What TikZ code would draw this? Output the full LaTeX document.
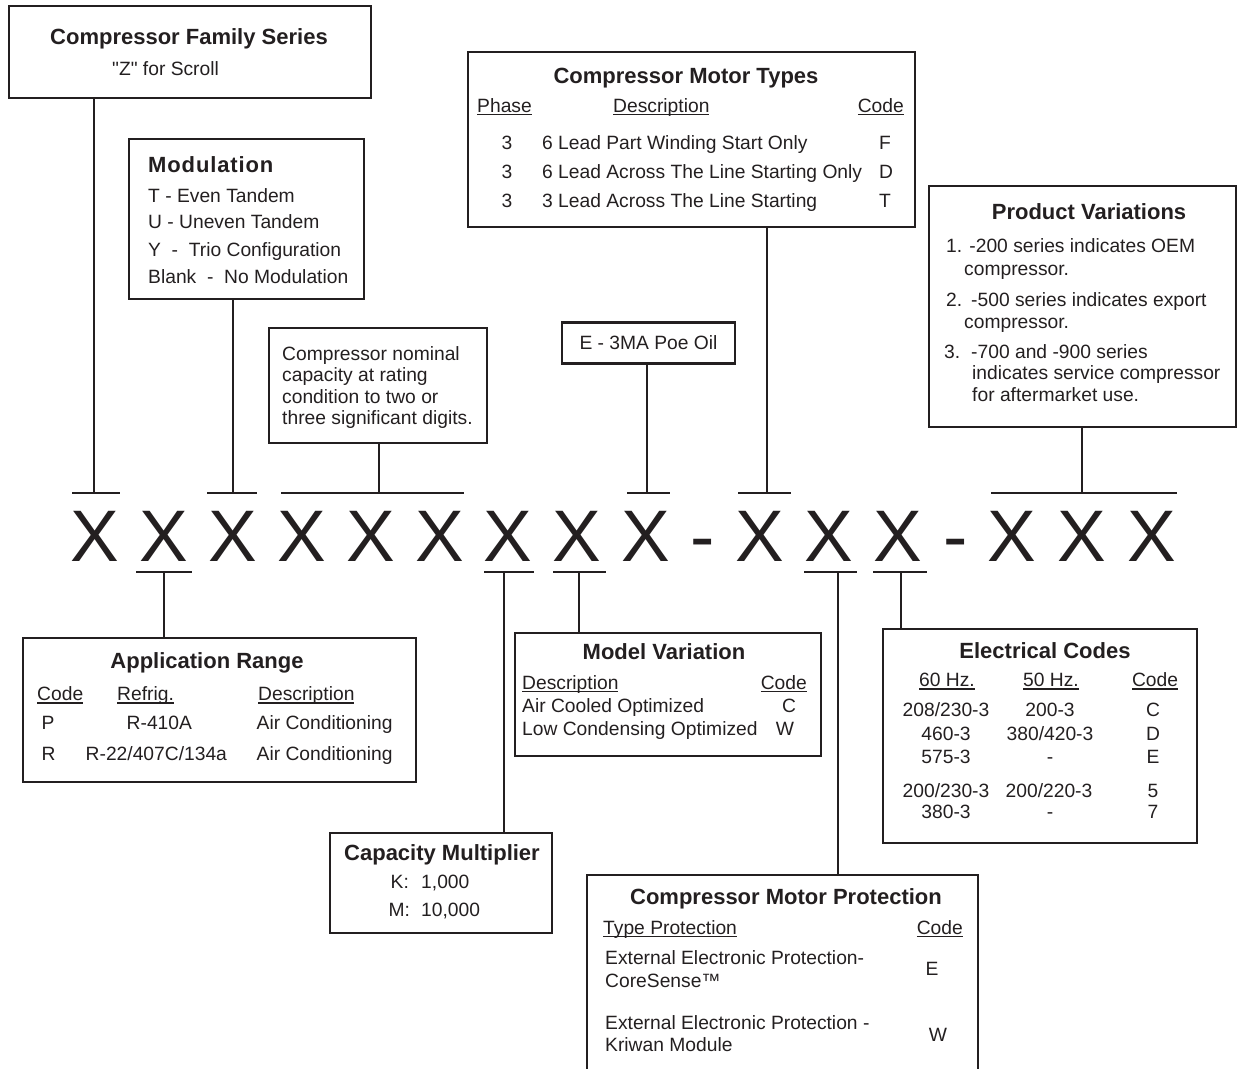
\documentclass[tikz,border=0pt]{standalone}
\usepackage{fontspec}
\setmainfont{Liberation Sans}[Ligatures=TeXOff]
\definecolor{ink}{HTML}{231F20}
\newcommand{\undl}[1]{\setbox0\hbox{#1}\rlap{\rule[-3.2pt]{\wd0}{1.3pt}}\box0}
\tikzset{
  box/.style={draw=ink, line width=2.2pt, inner sep=0pt, rectangle},
  conn/.style={draw=ink, line width=2pt},
  tx/.style={inner sep=0pt, text=ink, font=\fontsize{19.25}{23}\selectfont},
  hd/.style={inner sep=0pt, text=ink, font=\fontsize{22}{26}\selectfont\bfseries, anchor=base},
  bigx/.style={inner sep=0pt, text=ink, font=\fontsize{73}{80}\selectfont, anchor=base},
}
\begin{document}
\begin{tikzpicture}[x=1pt,y=-1pt]
\useasboundingbox (0,0) rectangle (1238,1068);
\clip (0,0) rectangle (1238,1068);

% ---------- boxes ----------
\node[box, minimum width=362pt, minimum height=92pt] (fam) at (190,52) {};
\node[box, minimum width=235pt, minimum height=160pt] (mod) at (246.5,219) {};
\node[box, minimum width=218pt, minimum height=115pt] (nom) at (378,385.5) {};
\node[box, minimum width=173pt, minimum height=41pt] (oil) at (648.5,343) {};
\node[box, minimum width=447pt, minimum height=175pt] (mtyp) at (691.5,139.5) {};
\node[box, minimum width=307pt, minimum height=241pt] (prod) at (1082.5,306.5) {};
\node[box, minimum width=393pt, minimum height=144pt] (app) at (219.5,710) {};
\node[box, minimum width=222pt, minimum height=100pt] (capm) at (441,883) {};
\node[box, minimum width=306pt, minimum height=123pt] (modv) at (668,694.5) {};
\node[box, minimum width=391pt, minimum height=220pt] (prot) at (782.5,985) {};
\node[box, minimum width=314pt, minimum height=214pt] (elec) at (1040,736) {};

% ---------- model number ----------
\node[bigx] (x1) at (94.6,561) {X};
\node[bigx] (x2) at (163.5,561) {X};
\node[bigx] (x3) at (232.5,561) {X};
\node[bigx] (x4) at (301.5,561) {X};
\node[bigx] (x5) at (370.5,561) {X};
\node[bigx] (x6) at (439.5,561) {X};
\node[bigx] (x7) at (508,561) {X};
\node[bigx] (x8) at (577,561) {X};
\node[bigx] (x9) at (646,561) {X};
\node[bigx] (d1) at (703,561) {-};
\node[bigx] (x10) at (760,561) {X};
\node[bigx] (x11) at (829,561) {X};
\node[bigx] (x12) at (898,561) {X};
\node[bigx] (d2) at (956,561) {-};
\node[bigx] (x13) at (1012,561) {X};
\node[bigx] (x14) at (1082,561) {X};
\node[bigx] (x15) at (1152,561) {X};

% ---------- tick points ----------
\coordinate (tA) at (94,493);
\coordinate (tB) at (233,493);
\coordinate (tC) at (379,493);
\coordinate (tD) at (647,493);
\coordinate (tE) at (767,493);
\coordinate (tF) at (1082,493);
\coordinate (bA) at (163.5,572);
\coordinate (bB) at (504,572);
\coordinate (bC) at (579,572);
\coordinate (bD) at (838,572);
\coordinate (bE) at (901,572);

% bars
\draw[conn] ([xshift=-22pt]tA) -- ([xshift=26pt]tA);
\draw[conn] ([xshift=-26pt]tB) -- ([xshift=24pt]tB);
\draw[conn] ([xshift=-98pt]tC) -- ([xshift=85pt]tC);
\draw[conn] ([xshift=-20pt]tD) -- ([xshift=23pt]tD);
\draw[conn] ([xshift=-29pt]tE) -- ([xshift=24pt]tE);
\draw[conn] ([xshift=-91pt]tF) -- ([xshift=95pt]tF);
\draw[conn] ([xshift=-27.5pt]bA) -- ([xshift=28.5pt]bA);
\draw[conn] ([xshift=-20pt]bB) -- ([xshift=30pt]bB);
\draw[conn] ([xshift=-26pt]bC) -- ([xshift=27pt]bC);
\draw[conn] ([xshift=-34pt]bD) -- ([xshift=19pt]bD);
\draw[conn] ([xshift=-28pt]bE) -- ([xshift=26pt]bE);

% connectors
\draw[conn] (fam.south -| tA) -- (tA);
\draw[conn] (mod.south -| tB) -- (tB);
\draw[conn] (nom.south -| tC) -- (tC);
\draw[conn] (oil.south -| tD) -- (tD);
\draw[conn] (mtyp.south -| tE) -- (tE);
\draw[conn] (prod.south -| tF) -- (tF);
\draw[conn] (bA) -- (bA |- app.north);
\draw[conn] (bB) -- (bB |- capm.north);
\draw[conn] (bC) -- (bC |- modv.north);
\draw[conn] (bD) -- (bD |- prot.north);
\draw[conn] (bE) -- (bE |- elec.north);

% ---------- Compressor Family Series ----------
\node[hd] (fam-t) at (189,44) {Compressor Family Series};
\node[tx, anchor=base west] (fam-1) at (112,75) {"Z" for Scroll};

% ---------- Modulation ----------
\node[hd, anchor=base west, font=\fontsize{22}{26}\selectfont\bfseries\addfontfeature{LetterSpace=4}] (mod-t) at (148,172) {Modulation};
\node[tx, anchor=base west] (mod-1) at (148,202) {T - Even Tandem};
\node[tx, anchor=base west] (mod-2) at (148,228) {U - Uneven Tandem};
\node[tx, anchor=base west] (mod-3) at (148,256) {Y~ -~ Trio Configuration};
\node[tx, anchor=base west] (mod-4) at (148,283) {Blank~ -~ No Modulation};

% ---------- nominal capacity ----------
\node[tx, anchor=base west] (nom-1) at (282,360.5) {Compressor nominal};
\node[tx, anchor=base west] (nom-2) at (282,381.5) {capacity at rating};
\node[tx, anchor=base west] (nom-3) at (282,403) {condition to two or};
\node[tx, anchor=base west] (nom-4) at (282,424) {three significant digits.};

% ---------- oil ----------
\node[tx, anchor=base] (oil-1) at (648.5,349) {E - 3MA Poe Oil};

% ---------- Compressor Motor Types ----------
\node[hd] (mtyp-t) at (686,83) {Compressor Motor Types};
\node[tx, anchor=base west] (mtyp-h1) at (477,112) {\undl{Phase}};
\node[tx, anchor=base west] (mtyp-h2) at (613,112) {\undl{Description}};
\node[tx, anchor=base east] (mtyp-h3) at (904,112) {\undl{Code}};
\node[tx, anchor=base] (mtyp-p1) at (507,149) {3};
\node[tx, anchor=base] (mtyp-p2) at (507,178) {3};
\node[tx, anchor=base] (mtyp-p3) at (507,207) {3};
\node[tx, anchor=base west] (mtyp-d1) at (542,149) {6 Lead Part Winding Start Only};
\node[tx, anchor=base west] (mtyp-d2) at (542,178) {6 Lead Across The Line Starting Only};
\node[tx, anchor=base west] (mtyp-d3) at (542,207) {3 Lead Across The Line Starting};
\node[tx, anchor=base] (mtyp-c1) at (885,149) {F};
\node[tx, anchor=base] (mtyp-c2) at (886,178) {D};
\node[tx, anchor=base] (mtyp-c3) at (885,207) {T};

% ---------- Product Variations ----------
\node[hd] (prod-t) at (1089,219.5) {Product Variations};
\node[tx, anchor=base west] (prod-1) at (946,252) {1. -200 series indicates OEM};
\node[tx, anchor=base west] (prod-1b) at (964,275) {compressor.};
\node[tx, anchor=base west] (prod-2n) at (946,306) {2.};
\node[tx, anchor=base west] (prod-2) at (971,306) {-500 series indicates export};
\node[tx, anchor=base west] (prod-2b) at (964,328) {compressor.};
\node[tx, anchor=base west] (prod-3n) at (944,358) {3.};
\node[tx, anchor=base west] (prod-3) at (971,358) {-700 and -900 series};
\node[tx, anchor=base west] (prod-3b) at (972,379.5) {indicates service compressor};
\node[tx, anchor=base west] (prod-3c) at (972,401.5) {for aftermarket use.};

% ---------- Application Range ----------
\node[hd] (app-t) at (207,668) {Application Range};
\node[tx, anchor=base west] (app-h1) at (37,700.5) {\undl{Code}};
\node[tx, anchor=base west] (app-h2) at (117,700.5) {\undl{Refrig.}};
\node[tx, anchor=base west] (app-h3) at (258,700.5) {\undl{Description}};
\node[tx, anchor=base west] (app-c1) at (41.5,729.5) {P};
\node[tx, anchor=base west] (app-r1) at (126.5,729.5) {R-410A};
\node[tx, anchor=base west] (app-d1) at (256.5,729.5) {Air Conditioning};
\node[tx, anchor=base west] (app-c2) at (41.5,760) {R};
\node[tx, anchor=base west] (app-r2) at (85.5,760) {R-22/407C/134a};
\node[tx, anchor=base west] (app-d2) at (256.5,760) {Air Conditioning};

% ---------- Model Variation ----------
\node[hd] (modv-t) at (664,659) {Model Variation};
\node[tx, anchor=base west] (modv-h1) at (522,689) {\undl{Description}};
\node[tx, anchor=base east] (modv-h2) at (807,689) {\undl{Code}};
\node[tx, anchor=base west] (modv-d1) at (522,712) {Air Cooled Optimized};
\node[tx, anchor=base] (modv-c1) at (789,712) {C};
\node[tx, anchor=base west] (modv-d2) at (522,735) {Low Condensing Optimized};
\node[tx, anchor=base] (modv-c2) at (785,735) {W};

% ---------- Electrical Codes ----------
\node[hd] (elec-t) at (1045,658) {Electrical Codes};
\node[tx, anchor=base] (elec-h1) at (947,686.5) {\undl{60 Hz.}};
\node[tx, anchor=base] (elec-h2) at (1051,686.5) {\undl{50 Hz.}};
\node[tx, anchor=base] (elec-h3) at (1155,686.5) {\undl{Code}};
\node[tx, anchor=base] (elec-a1) at (946,716) {208/230-3};
\node[tx, anchor=base] (elec-b1) at (1050,716) {200-3};
\node[tx, anchor=base] (elec-c1) at (1153,716) {C};
\node[tx, anchor=base] (elec-a2) at (946,740) {460-3};
\node[tx, anchor=base] (elec-b2) at (1050,740) {380/420-3};
\node[tx, anchor=base] (elec-c2) at (1153,740) {D};
\node[tx, anchor=base] (elec-a3) at (946,763) {575-3};
\node[tx, anchor=base] (elec-b3) at (1050,763) {-};
\node[tx, anchor=base] (elec-c3) at (1153,763) {E};
\node[tx, anchor=base] (elec-a4) at (946,797) {200/230-3};
\node[tx, anchor=base] (elec-b4) at (1049,797) {200/220-3};
\node[tx, anchor=base] (elec-c4) at (1153,797) {5};
\node[tx, anchor=base] (elec-a5) at (946,818) {380-3};
\node[tx, anchor=base] (elec-b5) at (1050,818) {-};
\node[tx, anchor=base] (elec-c5) at (1153,818) {7};

% ---------- Capacity Multiplier ----------
\node[hd] (capm-t) at (442,860) {Capacity Multiplier};
\node[tx, anchor=base west] (capm-k) at (390.5,888.5) {K:};
\node[tx, anchor=base west] (capm-kv) at (421,888.5) {1,000};
\node[tx, anchor=base west] (capm-m) at (388.5,916.5) {M:};
\node[tx, anchor=base west] (capm-mv) at (421,916.5) {10,000};

% ---------- Compressor Motor Protection ----------
\node[hd] (prot-t) at (786,904) {Compressor Motor Protection};
\node[tx, anchor=base west] (prot-h1) at (603,934) {\undl{Type Protection}};
\node[tx, anchor=base east] (prot-h2) at (963,934) {\undl{Code}};
\node[tx, anchor=base west] (prot-e1) at (605,964) {External Electronic Protection-};
\node[tx, anchor=base west] (prot-e2) at (605,987) {CoreSense™};
\node[tx, anchor=base] (prot-ec) at (932,975) {E};
\node[tx, anchor=base west] (prot-w1) at (605,1029) {External Electronic Protection -};
\node[tx, anchor=base west] (prot-w2) at (605,1051) {Kriwan Module};
\node[tx, anchor=base] (prot-wc) at (938,1041) {W};
\end{tikzpicture}
\end{document}
